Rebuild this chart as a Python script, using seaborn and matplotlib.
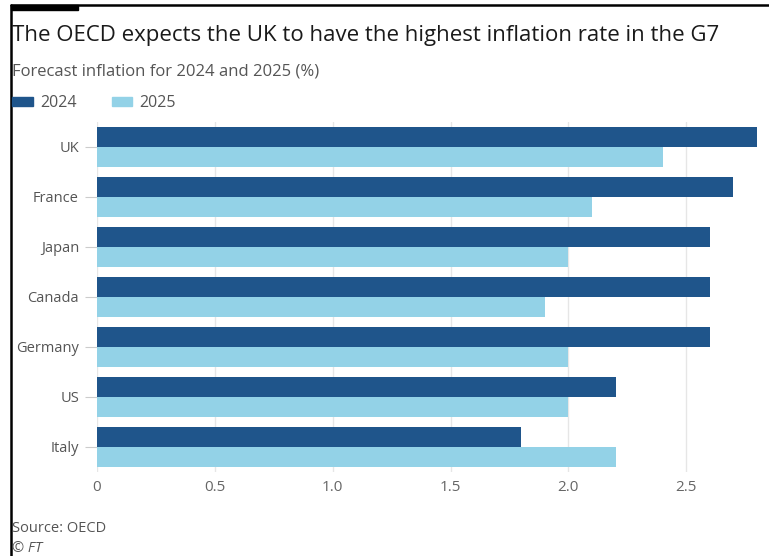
import matplotlib
matplotlib.use("Agg")
import matplotlib.pyplot as plt
import seaborn as sns
import pandas as pd
from matplotlib.lines import Line2D
from matplotlib.patches import Rectangle

countries = ["UK", "France", "Japan", "Canada", "Germany", "US", "Italy"]
infl_2024 = [2.8, 2.7, 2.6, 2.6, 2.6, 2.2, 1.8]
infl_2025 = [2.4, 2.1, 2.0, 1.9, 2.0, 2.0, 2.2]
years = ["2024", "2025"]
x_ticks = [0, 0.5, 1.0, 1.5, 2.0, 2.5]
x_tick_labels = ["0", "0.5", "1.0", "1.5", "2.0", "2.5"]

df = pd.DataFrame({
    "country": countries * 2,
    "year": [years[0]] * len(countries) + [years[1]] * len(countries),
    "value": infl_2024 + infl_2025,
})

sns.set_theme(style="white")
plt.rcParams["font.family"] = ["Open Sans", "DejaVu Sans"]

W, H = 769, 556
fig = plt.figure(figsize=(W / 100, H / 100), dpi=100)
ax = fig.add_axes([97 / W, 1 - 472 / H, (757 - 97) / W, (472 - 122) / H])

palette = {"2024": "#1f558b", "2025": "#93d2e7"}
sns.barplot(data=df, y="country", x="value", hue="year", order=countries,
            hue_order=years, palette=palette, orient="h", saturation=1,
            linewidth=0, width=0.8, ax=ax, legend=False, zorder=3)

ax.set_xlim(0, 2.8)
ax.set_ylim(6.5, -0.5)
ax.set_xticks(x_ticks)
ax.set_xticklabels(x_tick_labels)
ax.set_xlabel("")
ax.set_ylabel("")
for s in ax.spines.values():
    s.set_visible(False)
ax.grid(axis="x", color="#e6e6e6", linewidth=1, zorder=0)
ax.grid(axis="y", visible=False)
ax.set_axisbelow(True)
ax.tick_params(axis="x", length=0, pad=6, labelsize=11, labelcolor="#666666")
ax.tick_params(axis="y", length=9, width=0.8, color="#cccccc", pad=4,
               labelsize=10.5, labelcolor="#555555", left=True)

# Title, subtitle
fig.text(12 / W, 1 - 35 / H, "The OECD expects the UK to have the highest inflation rate in the G7",
         fontsize=16, color="#1a1a1a", va="center", ha="left")
fig.text(12 / W, 1 - 71 / H, "Forecast inflation for 2024 and 2025 (%)",
         fontsize=12, color="#555555", va="center", ha="left")

# Legend
handles = [Rectangle((0, 0), 1, 1, color=palette[y]) for y in years]
fig.legend(handles, years, loc="center left", bbox_to_anchor=(12 / W, 1 - 103 / H),
           ncol=2, frameon=False, fontsize=11.5, labelcolor="#555555",
           handlelength=1.3, handleheight=0.5, handletextpad=0.45,
           columnspacing=2.2, borderaxespad=0, borderpad=0)

# Source
fig.text(12 / W, 1 - 529 / H, "Source: OECD", fontsize=10.5, color="#555555",
         va="center", ha="left")
fig.text(12 / W, 1 - 548 / H, "© FT", fontsize=10.5, color="#555555",
         va="center", ha="left", style="italic")

# Frame lines
fig.add_artist(Line2D([11 / W, 11 / W], [1 - 5 / H, 0], color="black",
                      linewidth=1.8, transform=fig.transFigure))
fig.add_artist(Line2D([11 / W, 1], [1 - 5 / H, 1 - 5 / H], color="black",
                      linewidth=1.8, transform=fig.transFigure))
fig.add_artist(Rectangle((11 / W, 1 - 10 / H), 67 / W, 5 / H, color="black",
                         transform=fig.transFigure))

fig.savefig("out.png", dpi=100)
